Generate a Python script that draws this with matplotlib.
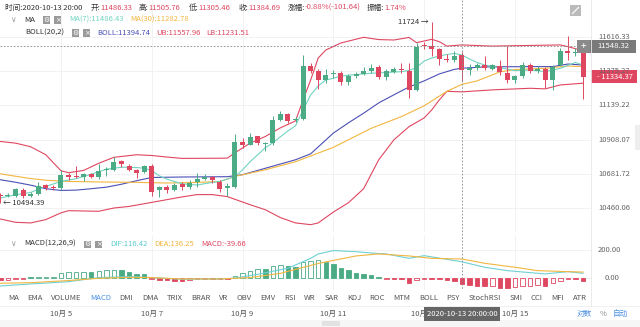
"""BTC 4h candlestick chart with MA / BOLL overlays and MACD panel"""

import math
import pandas as pd
import matplotlib
matplotlib.use("Agg")
import matplotlib.pyplot as plt
from matplotlib.lines import Line2D
from matplotlib.patches import Rectangle

plt.rcParams['font.family'] = ['Noto Sans CJK SC', 'DejaVu Sans']

W, H = 640, 327

# 4h candles starting 2020-10-03 16:00
times = pd.date_range('2020-10-03 16:00', periods=78, freq='4h')
opens = [10545, 10538, 10542, 10580, 10541, 10550, 10607, 10600, 10588, 10675,
         10667, 10663, 10680, 10663, 10706, 10708, 10767, 10735, 10706, 10694,
         10732, 10575, 10597, 10578, 10614, 10600, 10630, 10650, 10663, 10632,
         10590, 10597, 10890, 10875, 10930, 10880, 10885, 11042, 11083, 11040,
         11045, 11410, 11378, 11310, 11358, 11360, 11300, 11340, 11352, 11375,
         11400, 11335, 11370, 11392, 11375, 11246, 11558, 11548, 11527, 11462,
         11450, 11486.33, 11384, 11395, 11418, 11390, 11413, 11365, 11316, 11340,
         11420, 11377, 11392, 11310, 11418, 11517, 11500, 11510]
highs = [10560, 10560, 10592, 10590, 10562, 10627, 10615, 10610, 10710, 10690,
         10735, 10685, 10685, 10750, 10730, 10790, 10775, 10745, 10712, 10740,
         10745, 10605, 10610, 10626, 10630, 10640, 10690, 10683, 10668, 10640,
         10620, 10948, 10920, 10950, 10935, 10895, 11065, 11100, 11090, 11060,
         11488, 11430, 11390, 11390, 11380, 11375, 11355, 11370, 11400, 11425,
         11415, 11390, 11400, 11433, 11430, 11569, 11581, 11724, 11534, 11494,
         11517, 11505.76, 11424, 11430, 11481, 11425, 11454, 11548, 11350, 11440,
         11430, 11410, 11405, 11420, 11534, 11620, 11535, 11581]
lows = [10494.39, 10530, 10535, 10528, 10532, 10548, 10580, 10575, 10580, 10640,
        10655, 10633, 10655, 10650, 10670, 10704, 10727, 10700, 10655, 10690,
        10537, 10530, 10560, 10572, 10580, 10585, 10600, 10645, 10625, 10565,
        10540, 10590, 10855, 10870, 10870, 10830, 10870, 11030, 11020, 11025,
        11040, 11365, 11250, 11290, 11330, 11280, 11280, 11325, 11345, 11360,
        11320, 11310, 11365, 11360, 11190, 11240, 11530, 11480, 11416, 11440,
        11435, 11305.46, 11350, 11385, 11385, 11380, 11350, 11290, 11290, 11330,
        11360, 11360, 11260, 11246, 11410, 11455, 11480, 11181]
closes = [10538, 10548, 10584, 10537, 10552, 10606, 10590, 10588, 10672, 10663,
          10663, 10682, 10660, 10703, 10715, 10760, 10746, 10710, 10690, 10732,
          10565, 10600, 10576, 10612, 10597, 10623, 10650, 10663, 10642, 10586,
          10604, 10890, 10875, 10925, 10886, 10888, 11042, 11083, 11032, 11050,
          11408, 11375, 11310, 11348, 11365, 11300, 11338, 11355, 11375, 11395,
          11335, 11372, 11390, 11380, 11246, 11541, 11548, 11530, 11456, 11450,
          11482, 11384.69, 11396, 11418, 11395, 11416, 11370, 11315, 11338, 11420,
          11373, 11390, 11310, 11400, 11517, 11500, 11510, 11334.37]

# overlay lines (candle index, price)
ma7_x = [0, 2, 4, 6, 8, 10, 12, 14, 16, 18, 19, 20, 21, 22, 24, 26, 28, 29, 31, 32,
         33, 34, 35, 36, 37, 38, 39, 40, 41, 42, 43, 44, 45, 47, 49, 51, 53, 54, 55, 56,
         57, 58, 59, 60, 61, 62, 63, 64, 66, 68, 70, 72, 73, 74, 76, 77]
ma7_v = [10526, 10547, 10562, 10601, 10633, 10651, 10680, 10713, 10726, 10724, 10719,
         10703, 10670, 10648, 10618, 10610, 10627, 10633, 10664, 10709, 10762, 10808,
         10854, 10887, 10927, 10967, 11001, 11108, 11210, 11272, 11313, 11325, 11341,
         11351, 11360, 11365, 11371, 11379, 11400, 11445, 11466, 11480, 11491, 11498,
         11486.43, 11459, 11435, 11417, 11399, 11378, 11382, 11372, 11382, 11394, 11435,
         11417]
ma30_x = [0, 2, 4, 6, 9, 13, 18, 22, 26, 29, 31, 35, 39, 44, 49, 53, 56, 59, 61, 63,
          66, 68, 72, 75, 77]
ma30_v = [10683, 10667, 10652, 10641, 10633, 10630, 10627, 10623, 10627, 10633, 10666,
          10709, 10762, 10857, 10984, 11063, 11136, 11235, 11282.78, 11307, 11369, 11386,
          11394, 11410, 11406]
boll_x = [0, 2, 4, 6, 8, 10, 12, 14, 16, 18, 20, 24, 30, 32, 35, 39, 41, 44, 46, 48,
          50, 52, 54, 56, 58, 60, 61, 64, 70, 73, 75, 77]
boll_v = [10644, 10628, 10609, 10586, 10575, 10577, 10586, 10596, 10615, 10638, 10659,
          10662, 10664, 10677, 10719, 10775, 10814, 10952, 11021, 11086, 11156, 11211,
          11265, 11307, 11355, 11387, 11394.74, 11404, 11406, 11406, 11424, 11417]
ub_x = [0, 2, 4, 6, 8, 9, 11, 13, 15, 18, 20, 22, 24, 29, 30, 31, 33, 35, 37, 39,
        40, 41, 42, 43, 45, 48, 50, 52, 54, 55, 57, 58, 59, 61, 65, 74, 75, 77]
ub_v = [10896, 10885, 10861, 10808, 10703, 10690, 10705, 10752, 10791, 10808, 10803,
        10793, 10784, 10785, 10786, 10821, 10885, 10929, 10987, 11034, 11176, 11313,
        11466, 11522, 11572, 11612, 11596, 11593, 11611, 11574, 11598, 11581, 11550,
        11557.96, 11550, 11558, 11546, 11517]
lb_x = [0, 2, 4, 6, 8, 9, 13, 15, 17, 20, 24, 26, 28, 30, 33, 35, 37, 39, 41, 42,
        44, 46, 48, 50, 52, 54, 56, 57, 58, 59, 61, 65, 70, 72, 74, 77]
lb_v = [10392, 10371, 10367, 10388, 10431, 10445, 10441, 10462, 10472, 10498, 10533,
        10548, 10548, 10535, 10483, 10451, 10401, 10367, 10356, 10367, 10436, 10496,
        10586, 10775, 10907, 10995, 11054, 11108, 11176, 11235, 11231.51, 11245, 11256,
        11252, 11279, 11291]

# MACD(12,26,9)
hist = [-12, -10, -5, -3, 2, 3, 5, 7, 35, 42, 44, 47, 45, 52, 57, 59, 57, 42, 33, 28,
        -5, -9, -14, -16, -19, -9, -7, -3, -3, -3, -3, 14, 38, 54, 66, 64, 85, 94, 85, 78,
        113, 125, 130, 113, 99, 73, 59, 38, 31, 21, 12, -5, -5, -5, -35, -9, -5, -5, -5, -12,
        -16, -39.66, -47, -52, -57, -55, -68, -71, -64, -57, -52, -47, -52, -33, -16, -5, -5, -19]
dif_x = [0, 4, 9, 13, 17, 20, 24, 29, 31, 34, 38, 41, 42, 44, 47, 49, 51, 54, 56, 61,
         64, 67, 70, 72, 75, 77]
dif_v = [-54, -40, -24, 5, 12, 5, -7, -5, 2, 28, 71, 141, 172, 196, 188, 179, 172, 141,
         160, 116.42, 78, 54, 40, 31, 47, 35]
dea_x = [0, 4, 9, 13, 17, 20, 24, 29, 33, 37, 42, 47, 50, 54, 57, 61, 64, 68, 71, 75, 77]
dea_v = [-35, -31, -16, 0, 7, 5, -5, -5, 5, 35, 105, 158, 172, 158, 141, 136.25, 106,
         78, 54, 47, 44]

price_ticks = [11616.33, 11375.27, 11139.22, 10908.07, 10681.72, 10460.06]
indicators = ['MA', 'EMA', 'VOLUME', 'MACD', 'DMI', 'DMA', 'TRIX', 'BRAR', 'VR', 'OBV',
              'EMV', 'RSI', 'WR', 'SAR', 'KDJ', 'ROC', 'MTM', 'BOLL', 'PSY', 'StochRSI',
              'SMI', 'CCI', 'MFI', 'ATR']

GREEN = '#4AAB84'
RED = '#DF4760'
TEAL = '#72D3C2'
ORANGE = '#F2B640'
BLUE = '#4B50B6'
GRAY = '#333333'
LIGHT = '#999999'
STEP = 7.567      # pixels per candle


def fx(x):
    return x / W


def fy(y):
    return 1 - y / H


def ypx(p):
    # pixel row of a price on the log price axis
    return 36.7 - 1636.6 * math.log(p / 11616.33)


fig = plt.figure(figsize=(W / 100, H / 100), dpi=100)
renderer = fig.canvas.get_renderer()

n = len(closes)
xlim = (-0.4 / STEP, (591 - 0.4) / STEP)

# ---- main price panel ----
ax = fig.add_axes([0, fy(232), fx(591), 232 / H])
ax.set_yscale('log')
ax.set_xlim(*xlim)
ax.set_ylim(10309.7, 11879.8)
ax.axis('off')
for p in price_ticks:
    ax.axhline(p, color='#F0F0F0', lw=0.6, zorder=0)

day_idx = [i for i, t in enumerate(times) if t.hour == 0 and t.day % 2 == 1]
for i in day_idx:
    ax.axvline(i, color='#F0F0F0', lw=0.6, zorder=0)

for i in range(n):
    o, h, l, c = opens[i], highs[i], lows[i], closes[i]
    col = GREEN if c >= o else RED
    ax.vlines(i, l, h, color=col, lw=0.7, zorder=3)
    lo, hi = min(o, c), max(o, c)
    if hi - lo < 6:
        hi = lo + 6
    ax.bar(i, hi - lo, bottom=lo, width=0.66, color=col, lw=0, zorder=4)

ax.plot(ub_x, ub_v, color=RED, lw=0.8, zorder=2)
ax.plot(lb_x, lb_v, color=RED, lw=0.8, zorder=2)
ax.plot(boll_x, boll_v, color=BLUE, lw=0.8, zorder=2)
ax.plot(ma30_x, ma30_v, color=ORANGE, lw=0.8, zorder=2)
ax.plot(ma7_x, ma7_v, color=TEAL, lw=0.8, zorder=2)

# crosshair horizontal
ax.plot([xlim[0], 75.9], [11548.32, 11548.32], color='#888888', lw=0.6,
        ls=(0, (2, 2)), zorder=5)

# max / min markers
imax = highs.index(max(highs))
imin = lows.index(min(lows))
ax.annotate('%d \u2192' % max(highs), (imax - 0.4, max(highs)), ha='right', va='center',
            fontsize=5.5, color=GRAY)
ax.annotate('\u2190 %.2f' % min(lows), (imin + 0.4, min(lows)), ha='left', va='center',
            fontsize=5.5, color=GRAY)

# ---- MACD panel ----
ax2 = fig.add_axes([0, fy(290), fx(591), 55 / H])
ax2.set_xlim(*xlim)
ax2.set_ylim(-82.7, 306)
ax2.axis('off')
for v in [0, 200]:
    ax2.axhline(v, color='#F0F0F0', lw=0.6, zorder=0)
for i in day_idx:
    ax2.axvline(i, color='#F0F0F0', lw=0.6, zorder=0)
prev = 0
for i, v in enumerate(hist):
    col = GREEN if v >= 0 else RED
    hollow = abs(v) > abs(prev) if v >= 0 else abs(v) < abs(prev)
    hv = v if abs(v) > 7 else (7 if v >= 0 else -7)
    ax2.bar(i, hv, width=0.6, facecolor='white' if hollow else col, edgecolor=col,
            lw=0.6, zorder=3)
    prev = v
ax2.plot(dif_x, dif_v, color='#6ED0D6', lw=0.8, zorder=4)
ax2.plot(dea_x, dea_v, color=ORANGE, lw=0.8, zorder=4)

# crosshair vertical
cx = fx(0.4 + 61 * STEP)
fig.add_artist(Line2D([cx, cx], [fy(0), fy(290)], color='#888888', lw=0.6,
                      ls=(0, (2, 2)), zorder=6))

# right axis
fig.add_artist(Line2D([fx(591), fx(591)], [fy(0), fy(306)], color='#E8E8E8', lw=0.6))
for p in price_ticks:
    fig.text(fx(598), fy(ypx(p)), '%.2f' % p, fontsize=5.5, color='#666666', va='center')
fig.text(fx(598), fy(250), '200.00', fontsize=5.5, color='#666666', va='center')
fig.text(fx(605), fy(278.3), '0.00', fontsize=5.5, color='#666666', va='center')

# crosshair price label
fig.add_artist(Rectangle((fx(577), fy(53)), fx(13), 13 / H, color='#8A8A8A', lw=0))
fig.text(fx(583.5), fy(46.5), '+', fontsize=7, color='white', ha='center', va='center')
fig.add_artist(Rectangle((fx(590), fy(53)), fx(46), 13 / H, color='#7A7A7A', lw=0))
fig.text(fx(613), fy(46.5), '11548.32', fontsize=5.5, color='white', ha='center', va='center')
# last price label
yl = ypx(closes[-1])
fig.add_artist(Rectangle((fx(591), fy(yl + 6.5)), fx(46), 13 / H, color=RED, lw=0))
fig.text(fx(614.5), fy(yl), '- %.2f' % closes[-1], fontsize=5.5, color='white',
         ha='center', va='center')

# expand icon and side tab
fig.add_artist(Rectangle((fx(570), fy(16)), fx(11), 11 / H, color='#BBBBBB', lw=0))
fig.add_artist(Line2D([fx(572.5), fx(578.5)], [fy(13.5), fy(7.5)], color='white', lw=0.8))
fig.add_artist(Rectangle((fx(635), fy(150)), fx(5), 25 / H, color='#EEEEEE', lw=0))


# ---- header texts ----
def run(x, y, parts, size=5.5, gap=3):
    for s, c in parts:
        t = fig.text(fx(x), fy(y), s, color=c, fontsize=size, va='center', ha='left')
        x += t.get_window_extent(renderer=renderer).width + gap
    return x


def icons(x, y):
    for k, sym in enumerate(['\u2699', '\u00d7']):
        fig.add_artist(Rectangle((fx(x + k * 11), fy(y + 3.5)), fx(7), 7 / H,
                                 color='#9A9A9A', lw=0))
        fig.text(fx(x + k * 11 + 3.5), fy(y), sym, fontsize=5, color='white',
                 ha='center', va='center', family='DejaVu Sans')


header = [('时间:2020-10-13 20:00', GRAY), ('开:', GRAY), ('11486.33', RED),
          ('高:', GRAY), ('11505.76', RED), ('低:', GRAY), ('11305.46', RED),
          ('收:', GRAY), ('11384.69', RED), ('涨幅:', GRAY), ('-0.88%(-101.64)', RED),
          ('振幅:', GRAY), ('1.74%', RED)]
hx = [5, 90.7, None, 139, None, 189, None, 239, None, 287.3, None, 366.7, None]
x = 5
for (s, c), px in zip(header, hx):
    if px is not None:
        x = px
    t = fig.text(fx(x), fy(8), s, color=c, fontsize=5.5, va='center')
    x += t.get_window_extent(renderer=renderer).width

fig.text(fx(13), fy(20), '\u2228', fontsize=5.5, color=LIGHT, ha='center', va='center',
         family='DejaVu Sans')
fig.text(fx(24), fy(20), 'MA', fontsize=5.5, color=GRAY, va='center')
icons(43, 20)
run(69, 20, [('MA(7):11486.43', TEAL), ('MA(30):11282.78', ORANGE)], gap=7)

fig.text(fx(25), fy(33), 'BOLL(20,2)', fontsize=5.5, color=GRAY, va='center')
icons(72, 33)
run(97, 33, [('BOLL:11394.74', BLUE), ('UB:11557.96', RED), ('LB:11231.51', RED)], gap=6)

fig.text(fx(13), fy(244), '\u2228', fontsize=5.5, color=LIGHT, ha='center', va='center',
         family='DejaVu Sans')
fig.text(fx(24), fy(244), 'MACD(12,26,9)', fontsize=5.5, color=GRAY, va='center')
icons(84, 244)
run(110, 244, [('DIF:116.42', '#5DCAD0'), ('DEA:136.25', ORANGE), ('MACD:-39.66', RED)], gap=7)

# indicator tab row
x = 8
for name in indicators:
    t = fig.text(fx(x), fy(298), name, fontsize=5.5,
                 color='#4A90E2' if name == 'MACD' else '#555555', va='center')
    x += t.get_window_extent(renderer=renderer).width + 8.5

# date axis
fig.add_artist(Line2D([0, 1], [fy(306), fy(306)], color='#EEEEEE', lw=0.6))
for i in day_idx:
    fig.text(fx(0.4 + i * STEP), fy(314), '%d月 %d' % (times[i].month, times[i].day),
             fontsize=5.5, color='#555555', ha='center', va='center')
fig.text(fx(462), fy(314), times[61].strftime('%Y-%m-%d %H:%M:%S'), fontsize=5.5,
         color='white', ha='center', va='center',
         bbox=dict(boxstyle='square,pad=0.35', fc='#666666', ec='none'))
run(577, 314, [('对数', '#4A90E2'), ('%', '#888888'), ('自动', '#4A90E2')], gap=7)
fig.add_artist(Rectangle((0, 0), 1, fy(320), color='#F6F6F6', lw=0))
fig.add_artist(Rectangle((fx(322), fy(326)), fx(18), 5 / H, color='#E2E2E2', lw=0))

fig.savefig('out.png', dpi=100)
